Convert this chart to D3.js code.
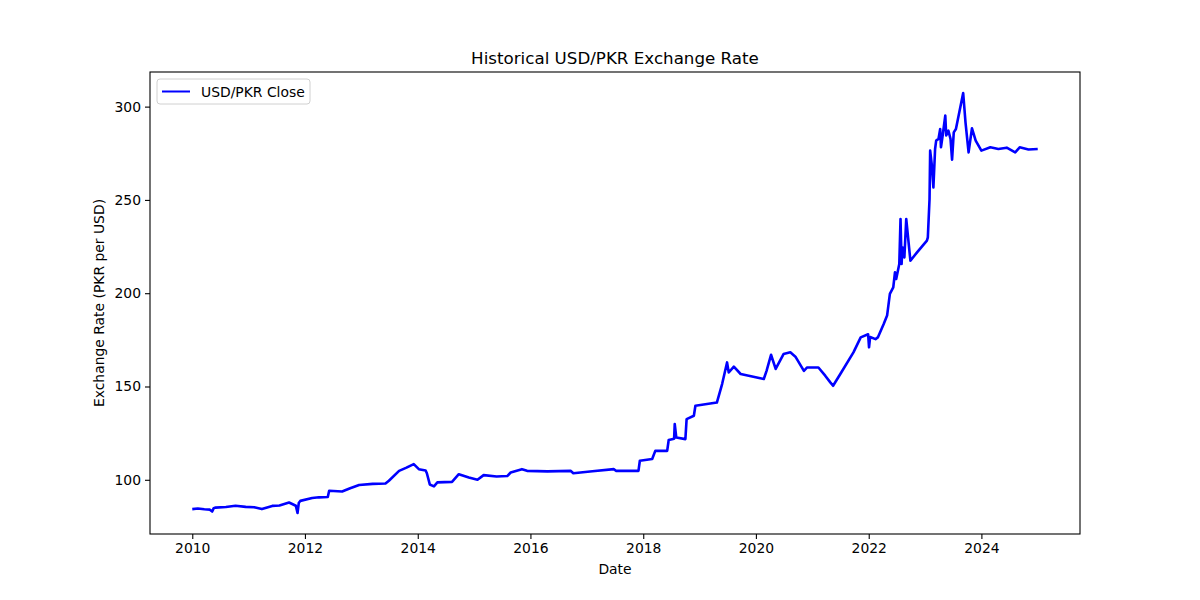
<!DOCTYPE html>
<html>
<head>
<meta charset="utf-8">
<script src="https://cdn.jsdelivr.net/npm/d3@7"></script>
<style>
  body { margin: 0; background: #fff; }
  svg { font-family: "DejaVu Sans", sans-serif; }
</style>
</head>
<body>
<svg id="chart" width="1200" height="600"></svg>
<script>
// closing rate, one entry per date
const dates = [
  "2010-01-01","2010-02-06","2010-03-20","2010-04-25","2010-05-10","2010-05-20","2010-06-01","2010-08-07",
  "2010-10-08","2010-12-13","2011-02-06","2011-03-28","2011-05-01","2011-06-03","2011-07-20","2011-09-20",
  "2011-11-03","2011-11-14","2011-11-22","2011-12-02","2012-02-17","2012-04-01","2012-05-28","2012-06-06",
  "2012-08-29","2012-10-20","2012-12-17","2013-03-15","2013-06-06","2013-06-28","2013-09-02","2013-10-20",
  "2013-12-06","2014-01-08","2014-02-21","2014-03-01","2014-03-20","2014-04-16","2014-05-08","2014-08-11",
  "2014-09-24","2014-11-28","2015-01-23","2015-03-04","2015-05-27","2015-08-04","2015-08-26","2015-11-07",
  "2015-12-10","2016-04-20","2016-09-17","2016-10-05","2017-02-06","2017-06-25","2017-07-08","2017-12-01",
  "2017-12-10","2018-02-28","2018-03-20","2018-06-05","2018-06-15","2018-07-20","2018-07-24","2018-08-03",
  "2018-10-01","2018-10-09","2018-11-25","2018-12-05","2019-04-23","2019-05-27","2019-06-28","2019-07-09",
  "2019-08-11","2019-09-24","2020-02-21","2020-03-10","2020-04-08","2020-05-08","2020-06-28","2020-08-11",
  "2020-09-13","2020-11-07","2020-11-28","2021-02-09","2021-03-25","2021-04-27","2021-05-15","2021-07-01",
  "2021-09-24","2021-11-10","2021-12-28","2022-01-03","2022-01-10","2022-02-14","2022-03-01","2022-04-08",
  "2022-04-30","2022-05-18","2022-06-09","2022-06-20","2022-06-28","2022-07-18","2022-07-26","2022-08-02",
  "2022-08-07","2022-08-20","2022-09-01","2022-09-28","2022-11-10","2023-01-13","2023-01-19","2023-01-30",
  "2023-02-03","2023-02-13","2023-02-24","2023-03-07","2023-03-14","2023-03-29","2023-04-09","2023-04-14",
  "2023-04-25","2023-05-12","2023-05-18","2023-06-01","2023-06-15","2023-06-25","2023-07-06","2023-07-20",
  "2023-09-05","2023-09-20","2023-10-10","2023-11-01","2023-11-25","2024-01-01","2024-02-28","2024-04-20",
  "2024-06-13","2024-08-07","2024-09-05","2024-11-01","2024-12-31"
];
const closes = [
  84.3, 84.6, 84.2, 84.0, 83.0, 84.8, 85.1, 85.4,
  86.1, 85.5, 85.3, 84.3, 85.2, 86.0, 86.2, 87.8,
  86.1, 82.2, 87.5, 88.7, 90.2, 90.6, 90.8, 94.1,
  93.7, 95.5, 97.2, 97.8, 98.0, 99.5, 104.8, 106.5,
  108.4, 105.7, 105.0, 103.5, 97.5, 96.5, 98.6, 98.9,
  103.0, 101.2, 100.0, 102.5, 101.8, 102.0, 103.9, 105.7,
  104.8, 104.5, 104.8, 103.5, 104.6, 105.7, 104.8, 104.8,
  110.2, 111.1, 115.5, 115.5, 121.3, 122.0, 129.9, 122.7,
  121.8, 132.5, 134.3, 139.7, 141.4, 151.3, 162.9, 157.5,
  160.6, 156.7, 154.0, 158.4, 167.0, 159.4, 167.4, 168.3,
  166.0, 158.4, 160.2, 160.2, 155.8, 152.2, 150.4, 156.7,
  168.3, 176.3, 178.0, 171.0, 176.5, 175.4, 176.3, 183.5,
  188.0, 199.6, 203.1, 211.2, 207.6, 215.7, 239.8, 215.7,
  224.6, 219.2, 239.8, 217.4, 221.9, 228.2, 229.9, 250.5,
  276.4, 269.3, 256.7, 277.3, 281.8, 282.7, 288.0, 278.2,
  284.5, 295.2, 284.5, 287.1, 282.7, 271.6, 286.2, 288.0,
  307.3, 291.6, 275.5, 288.4, 281.8, 276.4, 278.2, 277.3,
  278.0, 275.5, 278.2, 277.0, 277.3
];
const xTickYears = [2010, 2012, 2014, 2016, 2018, 2020, 2022, 2024];
const yTicks = [100, 150, 200, 250, 300];

const parse = d3.timeParse("%Y-%m-%d");
const data = dates.map((d, i) => ({ date: parse(d), close: closes[i] }));

const svg = d3.select("#chart");
const m = { left: 150, right: 1080, top: 72, bottom: 534 };

// matplotlib style 5% padding on both axes
const xExt = d3.extent(data, d => d.date);
const xPad = (xExt[1] - xExt[0]) * 0.05;
const x = d3.scaleTime()
  .domain([new Date(+xExt[0] - xPad), new Date(+xExt[1] + xPad)])
  .range([m.left, m.right]);

const yExt = d3.extent(data, d => d.close);
const yPad = (yExt[1] - yExt[0]) * 0.05;
const y = d3.scaleLinear()
  .domain([yExt[0] - yPad, yExt[1] + yPad])
  .range([m.bottom, m.top]);

const line = d3.line().x(d => x(d.date)).y(d => y(d.close));

svg.append("path")
  .datum(data)
  .attr("fill", "none")
  .attr("stroke", "#0000ff")
  .attr("stroke-width", 2.6)
  .attr("stroke-linejoin", "round")
  .attr("d", line);

// axes
const xAxis = svg.append("g")
  .attr("transform", `translate(0,${m.bottom})`)
  .call(d3.axisBottom(x)
    .tickValues(xTickYears.map(yr => new Date(yr, 0, 1)))
    .tickFormat(d3.timeFormat("%Y"))
    .tickSizeOuter(0)
    .tickSize(5)
    .tickPadding(4));

const yAxis = svg.append("g")
  .attr("transform", `translate(${m.left},0)`)
  .call(d3.axisLeft(y).tickValues(yTicks).tickSizeOuter(0).tickSize(5).tickPadding(4));

[xAxis, yAxis].forEach(g => {
  g.select(".domain").remove();
  g.selectAll("text").attr("font-size", 13.9).attr("fill", "#000")
    .attr("font-family", "DejaVu Sans, sans-serif");
  g.selectAll("line").attr("stroke", "#000").attr("stroke-width", 1.1);
});

// frame
svg.append("rect")
  .attr("x", m.left).attr("y", m.top)
  .attr("width", m.right - m.left).attr("height", m.bottom - m.top)
  .attr("fill", "none").attr("stroke", "#000").attr("stroke-width", 1.1);

// title and labels
svg.append("text")
  .attr("x", (m.left + m.right) / 2).attr("y", 64)
  .attr("text-anchor", "middle").attr("font-size", 16.7)
  .text("Historical USD/PKR Exchange Rate");

svg.append("text")
  .attr("x", (m.left + m.right) / 2).attr("y", 574)
  .attr("text-anchor", "middle").attr("font-size", 13.9)
  .text("Date");

svg.append("text")
  .attr("transform", `translate(104,${(m.top + m.bottom) / 2}) rotate(-90)`)
  .attr("text-anchor", "middle").attr("font-size", 13.9)
  .text("Exchange Rate (PKR per USD)");

// legend
const lg = svg.append("g").attr("transform", `translate(${m.left + 7},${m.top + 7})`);
lg.append("rect")
  .attr("width", 153).attr("height", 25).attr("rx", 3)
  .attr("fill", "#fff").attr("fill-opacity", 0.8)
  .attr("stroke", "#d0d0d0").attr("stroke-width", 1);
lg.append("line")
  .attr("x1", 5).attr("x2", 33).attr("y1", 12.5).attr("y2", 12.5)
  .attr("stroke", "#0000ff").attr("stroke-width", 2);
lg.append("text")
  .attr("x", 44).attr("y", 17.5).attr("font-size", 13.9)
  .text("USD/PKR Close");
</script>
</body>
</html>
